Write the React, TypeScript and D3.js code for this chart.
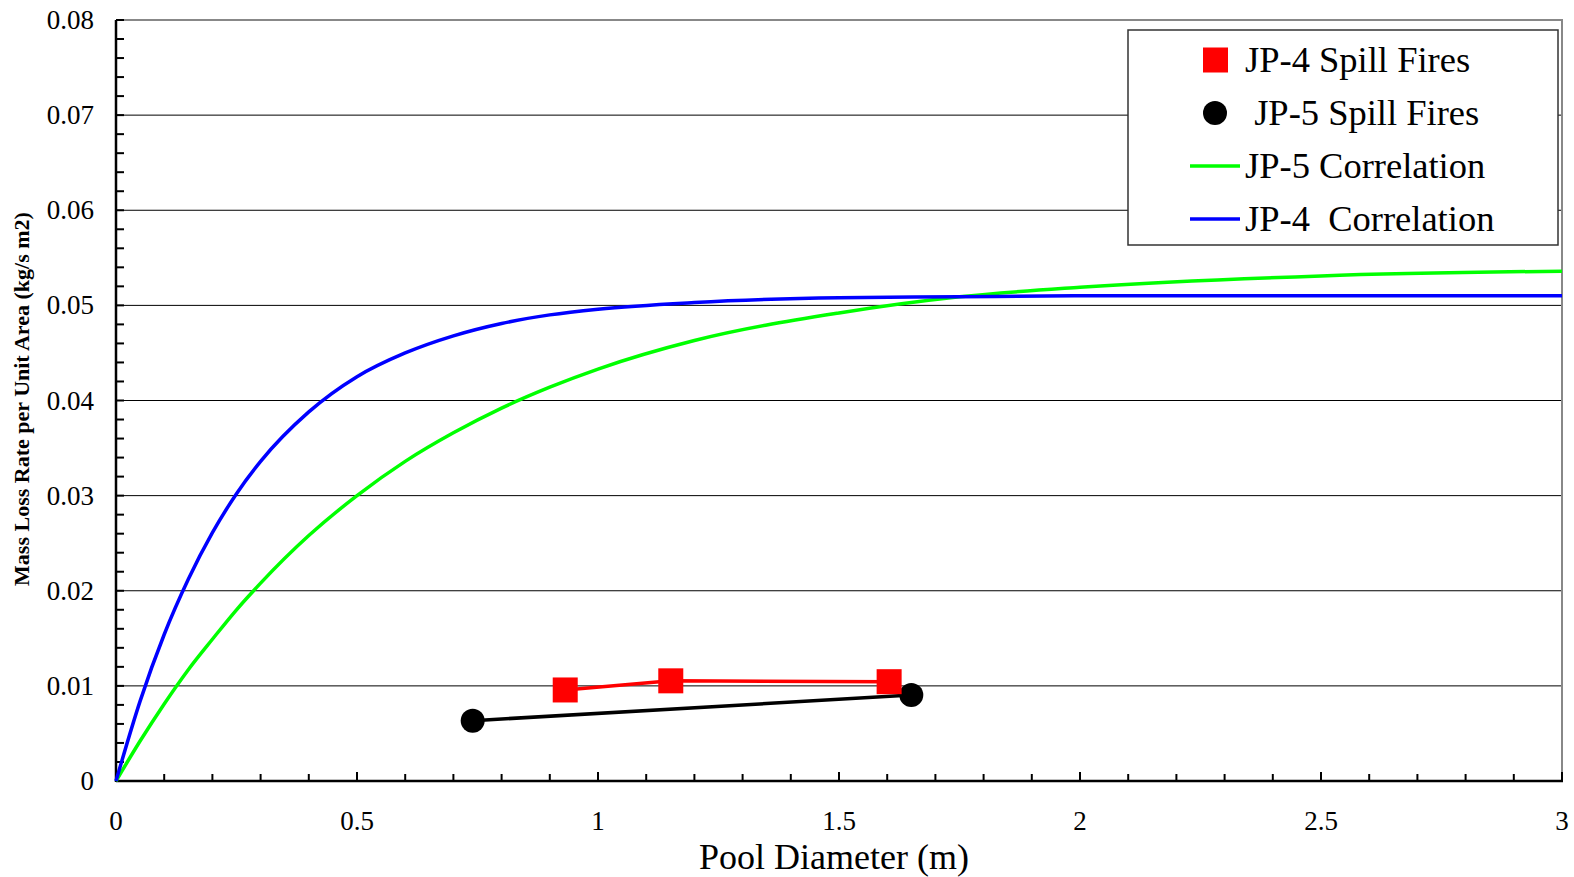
import React from "react";
import * as d3 from "d3";

const W = 1574;
const H = 877;

// Correlation curves
const curveD = [0, 0.05, 0.1, 0.15, 0.2, 0.25, 0.3, 0.4, 0.5, 0.6, 0.7, 0.8, 0.9, 1.0, 1.2, 1.5, 1.75, 2.0, 2.5, 3.0];
const jp4Corr = [0, 0.0084, 0.0154, 0.0212, 0.0261, 0.0302, 0.0336, 0.0388, 0.0425, 0.045, 0.0468, 0.0481, 0.049, 0.0496, 0.0503, 0.0508, 0.0509, 0.051, 0.051, 0.051];
const jp5Corr = [0, 0.0042, 0.0081, 0.0117, 0.0149, 0.018, 0.0208, 0.0258, 0.03, 0.0336, 0.0366, 0.0392, 0.0414, 0.0433, 0.0463, 0.0492, 0.0509, 0.0519, 0.0531, 0.0536];

// Measured spill fires
const jp4SpillD = [0.932, 1.151, 1.604];
const jp4SpillM = [0.00957, 0.01053, 0.01044];
const jp5SpillD = [0.74, 1.65];
const jp5SpillM = [0.00634, 0.00904];

const xTicks = [0, 0.5, 1, 1.5, 2, 2.5, 3];
const yTicks = [0, 0.01, 0.02, 0.03, 0.04, 0.05, 0.06, 0.07, 0.08];

const legendItems = [
  { label: "JP-4 Spill Fires", kind: "square", color: "#ff0000" },
  { label: " JP-5 Spill Fires", kind: "circle", color: "#000000" },
  { label: "JP-5 Correlation", kind: "line", color: "#00ff00" },
  { label: "JP-4  Correlation", kind: "line", color: "#0000ff" },
];

const FONT = "'Liberation Serif', 'Times New Roman', serif";

export default function App() {
  const left = 116, right = 1562, top = 20, bottom = 781;
  const x = d3.scaleLinear().domain([0, 3]).range([left, right]);
  const y = d3.scaleLinear().domain([0, 0.08]).range([bottom, top]);

  const line = d3
    .line<[number, number]>()
    .x((d) => x(d[0]))
    .y((d) => y(d[1]))
    .curve(d3.curveMonotoneX);
  const straight = d3
    .line<[number, number]>()
    .x((d) => x(d[0]))
    .y((d) => y(d[1]));

  const jp4Pts: [number, number][] = curveD.map((d, i) => [d, jp4Corr[i]]);
  const jp5Pts: [number, number][] = curveD.map((d, i) => [d, jp5Corr[i]]);
  const jp4S: [number, number][] = jp4SpillD.map((d, i) => [d, jp4SpillM[i]]);
  const jp5S: [number, number][] = jp5SpillD.map((d, i) => [d, jp5SpillM[i]]);

  const yMinor = d3.range(0, 0.0801, 0.002);
  const xMinor = d3.range(0, 3.001, 0.1);

  const legX = 1128, legY = 30, legW = 430, legH = 215;
  const rowYs = [60, 113, 166, 219];

  return (
    <svg
      width={W}
      height={H}
      style={{ position: "absolute", left: 0, top: 0, background: "#fff" }}
      fontFamily={FONT}
    >
      <rect x={0} y={0} width={W} height={H} fill="#fff" />
      {/* gridlines */}
      {yTicks.slice(1, -1).map((t) => (
        <line key={"g" + t} x1={left} x2={right} y1={y(t)} y2={y(t)} stroke="#000" strokeWidth={1} />
      ))}
      {/* frame top/right */}
      <line x1={left} x2={right + 1} y1={top} y2={top} stroke="#888" strokeWidth={2} />
      <line x1={right} x2={right} y1={top} y2={bottom} stroke="#888" strokeWidth={2} />
      {/* y minor ticks */}
      {yMinor.map((t) => (
        <line key={"ym" + t} x1={left} x2={left + 8} y1={y(t)} y2={y(t)} stroke="#000" strokeWidth={2} />
      ))}
      {/* x ticks */}
      {xMinor.map((t, i) => (
        <line
          key={"xm" + i}
          x1={x(t)}
          x2={x(t)}
          y1={bottom}
          y2={bottom - (i % 5 === 0 ? 9 : 7)}
          stroke="#000"
          strokeWidth={2}
        />
      ))}
      {/* axes */}
      <line x1={left} x2={left} y1={top} y2={bottom + 1} stroke="#000" strokeWidth={2.5} />
      <line x1={left} x2={right + 1} y1={bottom} y2={bottom} stroke="#000" strokeWidth={2.5} />

      {/* tick labels */}
      {yTicks.map((t) => (
        <text key={"yl" + t} x={94} y={y(t) + 9} fontSize={27} textAnchor="end" fill="#000">
          {t === 0 ? "0" : t.toFixed(2)}
        </text>
      ))}
      {xTicks.map((t) => (
        <text key={"xl" + t} x={x(t)} y={830} fontSize={27} textAnchor="middle" fill="#000">
          {String(t)}
        </text>
      ))}

      {/* axis titles */}
      <text x={834} y={869} fontSize={36} textAnchor="middle" fill="#000">
        Pool Diameter (m)
      </text>
      <text
        transform={`translate(29, 399) rotate(-90)`}
        fontSize={22}
        fontWeight="bold"
        textAnchor="middle"
        fill="#000"
      >
        Mass Loss Rate per Unit Area (kg/s m2)
      </text>

      {/* correlation curves */}
      <path d={line(jp5Pts) || ""} fill="none" stroke="#00ff00" strokeWidth={3.5} />
      <path d={line(jp4Pts) || ""} fill="none" stroke="#0000ff" strokeWidth={3.5} />

      {/* spill fires */}
      <path d={straight(jp5S) || ""} fill="none" stroke="#000" strokeWidth={3.5} />
      {jp5S.map((p, i) => (
        <circle key={"c" + i} cx={x(p[0])} cy={y(p[1])} r={12} fill="#000" />
      ))}
      <path d={straight(jp4S) || ""} fill="none" stroke="#ff0000" strokeWidth={3.5} />
      {jp4S.map((p, i) => (
        <rect key={"s" + i} x={x(p[0]) - 12.5} y={y(p[1]) - 12.5} width={25} height={25} fill="#ff0000" />
      ))}

      {/* legend */}
      <rect x={legX} y={legY} width={legW} height={legH} fill="#fff" stroke="#333" strokeWidth={1.5} />
      {legendItems.map((it, i) => {
        const cy = rowYs[i];
        return (
          <g key={"lg" + i}>
            {it.kind === "square" && <rect x={1203} y={cy - 12.5} width={25} height={25} fill={it.color} />}
            {it.kind === "circle" && <circle cx={1215} cy={cy} r={12} fill={it.color} />}
            {it.kind === "line" && (
              <line x1={1190} x2={1240} y1={cy} y2={cy} stroke={it.color} strokeWidth={3.5} />
            )}
            <text x={1245} y={cy + 12} fontSize={36.5} fill="#000" style={{ whiteSpace: "pre" }}>
              {it.label}
            </text>
          </g>
        );
      })}
    </svg>
  );
}
